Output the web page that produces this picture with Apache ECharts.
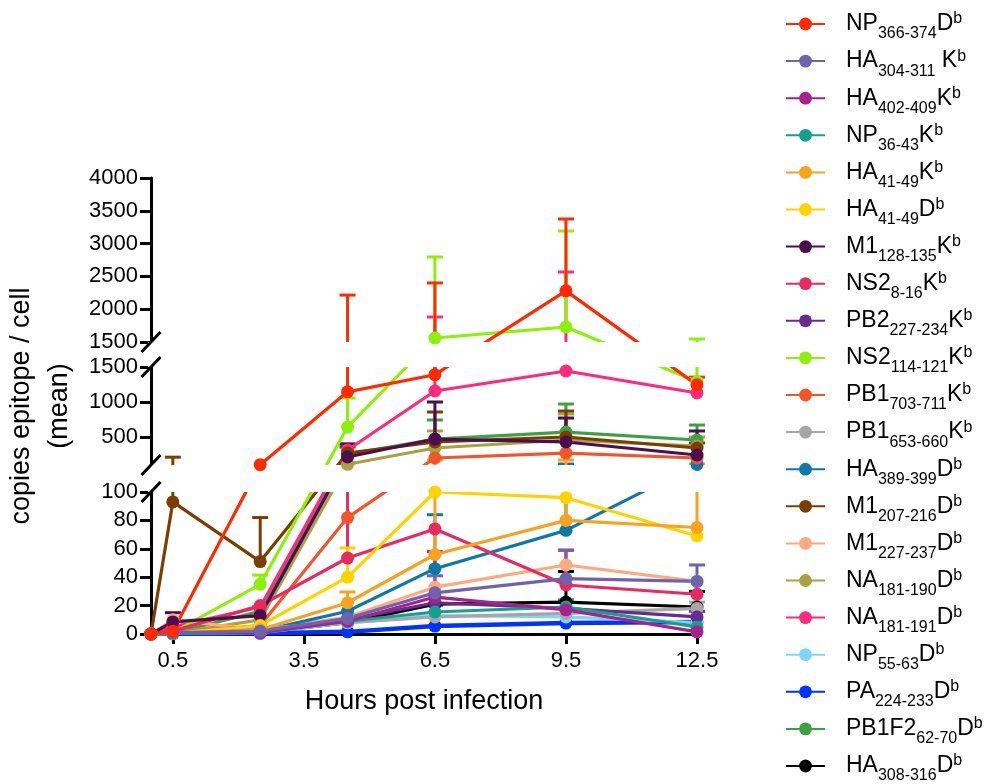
<!DOCTYPE html>
<html><head><meta charset="utf-8">
<script src="https://cdn.jsdelivr.net/npm/echarts@6/dist/echarts.min.js"></script>
<style>html,body{margin:0;padding:0;background:#fff}#c{width:988px;height:784px}</style>
</head><body><div id="c"></div>
<script>
// ---------- data ----------
const hours = [0, 0.5, 2.5, 4.5, 6.5, 9.5, 12.5];
const xTickLabels = [0.5, 3.5, 6.5, 9.5, 12.5];
const yTicksBottom = [0, 20, 40, 60, 80, 100];
const yTicksMiddle = [500, 1000, 1500];
const yTicksTop = [1500, 2000, 2500, 3000, 3500, 4000];

const protein = ['NP','HA','HA','NP','HA','HA','M1','NS2','PB2','NS2','PB1','PB1','HA','M1','M1','NA','NA','NP','PA','PB1F2','HA'];
const residues = ['366-374','304-311','402-409','36-43','41-49','41-49','128-135','8-16','227-234','114-121','703-711','653-660','389-399','207-216','227-237','181-190','181-191','55-63','224-233','62-70','308-316'];
const allele = ['D',' K','K','K','K','D','K','K','K','K','K','K','D','D','D','D','D','D','D','D','D'];

// mean copies per cell at each hour
const meanNP366   = [0, 2, 105, 1145, 1390, 2280, 1245];
const meanHA304   = [0, 1, 2, 11, 29, 39, 37];
const meanHA402   = [0, 1, 1, 9, 26, 17, 1.5];
const meanNP36    = [0, 0.5, 1, 9, 15.5, 19, 5];
const meanHA41K   = [0, 0.5, 3, 22, 56, 80, 75];
const meanHA41D   = [0, 0.5, 6, 40, 100, 96, 69];
const meanM1_128  = [0, 8.5, 13, 214, 471, 429, 243];
const meanNS2_8   = [0, 2, 20, 53.5, 74, 34.5, 28];
const meanPB2     = [0, 1, 2, 10, 22, 18, 12];
const meanNS2_114 = [0, 1, 35, 643, 1561, 1729, 1290];
const meanPB1_703 = [0, 1, 6, 82, 200, 271, 200];
const meanPB1_653 = [0, 0.5, 4, 8, 12, 14.5, 18];
const meanHA389   = [0, 0.5, 2, 16, 46, 73, 108];
const meanM1_207  = [0, 93, 51, 270, 430, 500, 343];
const meanM1_227  = [0, 10, 3, 12, 33, 48.6, 37];
const meanNA190   = [0, 0.5, 10, 110, 343, 457, 371];
const meanNA191   = [0, 5, 19, 314, 1157, 1443, 1129];
const meanNP55    = [0, 0.5, 1, 8, 13, 12, 8];
const meanPA224   = [0, 0, 0.5, 1.5, 5.6, 7.7, 8.5];
const meanPB1F2   = [0, 0.5, 16, 250, 471, 571, 457];
const meanHA308   = [0, 0.5, 1, 8, 21, 22.5, 19];

// upper end of error bar (mean + error), null = no bar drawn
const errNP366   = [null, null, null, 2215, 2400, 3375, 1355];
const errHA304   = [null, null, null, null, 41, 59, 48.6];
const errHA402   = [null, null, null, null, 58, null, null];
const errNP36    = [null, null, null, null, 20, 24, null];
const errHA41K   = [null, null, null, 29.6, 170, 170, 114];
const errHA41D   = [null, null, null, 60.6, null, null, null];
const errM1_128  = [null, 15, 19, 400, 1000, 771, 586];
const errNS2_8   = [null, null, null, 130, null, 59, null];
const errPB2     = [null, null, null, null, null, null, 16];
const errNS2_114 = [null, null, 41.5, 1057, 2796, 3192, 1546];
const errPB1_703 = [null, null, null, null, null, null, null];
const errPB1_653 = [null, null, null, null, null, null, 22.5];
const errHA389   = [null, null, null, null, 84, 114, null];
const errM1_207  = [null, 212, 82, 357, 857, 871, 414];
const errM1_227  = [null, null, null, null, null, 59, null];
const errNA190   = [null, null, null, null, 586, 829, 500];
const errNA191   = [null, null, null, null, 1881, 2567, null];
const errNP55    = [null, null, null, null, null, null, null];
const errPA224   = [null, null, null, null, null, null, null];
const errPB1F2   = [null, null, null, 400, 743, 971, 671];
const errHA308   = [null, null, null, null, null, 44, 30];

const means = [meanNP366, meanHA304, meanHA402, meanNP36, meanHA41K, meanHA41D, meanM1_128, meanNS2_8, meanPB2, meanNS2_114, meanPB1_703, meanPB1_653, meanHA389, meanM1_207, meanM1_227, meanNA190, meanNA191, meanNP55, meanPA224, meanPB1F2, meanHA308];
const errs = [errNP366, errHA304, errHA402, errNP36, errHA41K, errHA41D, errM1_128, errNS2_8, errPB2, errNS2_114, errPB1_703, errPB1_653, errHA389, errM1_207, errM1_227, errNA190, errNA191, errNP55, errPA224, errPB1F2, errHA308];

// ---------- styles ----------
const colors = ['#FF2A00','#6F63AE','#A8228E','#13A08F','#F9A21E','#FFD300','#4D0D4F','#E72A60','#6A2A8F','#8CF00A','#F4542A','#A6A6A6','#0E78A8','#7A3E00','#FFA97E','#A9A243','#FF2A7C','#7ED6FF','#0033FF','#3DA144','#000000'];
const widths = colors.map((c, i) => i === 18 ? 4.5 : 3.2);
const FONT = 'Liberation Sans, Arial, Helvetica, sans-serif';

// broken y-axis: three linear segments laid on one pixel-scaled axis
const segs = [
  {lo: 0, hi: 100, v0: 0, v1: 142},
  {lo: 100, hi: 1500, v0: 169, v1: 267},
  {lo: 1500, hi: 4000, v0: 292, v1: 456}
];
function segVirt(s, v) { return s.v0 + (v - s.lo) * (s.v1 - s.v0) / (s.hi - s.lo); }
function toVirt(v) { const s = v <= segs[0].hi ? segs[0] : (v <= segs[1].hi ? segs[1] : segs[2]); return segVirt(s, v); }
function fromVirt(x) {
  for (const s of segs) if (x >= s.v0 - 0.01 && x <= s.v1 + 0.01) return s.lo + (x - s.v0) * (s.hi - s.lo) / (s.v1 - s.v0);
  return null;
}
const yTickVirt = [].concat(
  yTicksBottom.map(v => segVirt(segs[0], v)),
  yTicksMiddle.map(v => segVirt(segs[1], v)),
  yTicksTop.map(v => segVirt(segs[2], v))
);

const names = protein.map((p, i) => p + residues[i] + allele[i].trim() + 'b');
const nameIndex = {};
names.forEach((n, i) => { nameIndex[n] = i; });

const chart = echarts.init(document.getElementById('c'), null, {renderer: 'canvas'});

const series = [];
// lines + error bars: earlier data sets drawn on top
for (let i = names.length - 1; i >= 0; i--) {
  series.push({
    type: 'line', name: names[i], z: 2,
    data: hours.map((h, k) => means[i][k] == null ? null : [h, toVirt(means[i][k])]),
    symbol: 'circle', symbolSize: 13, showSymbol: false,
    lineStyle: {color: colors[i], width: widths[i]},
    itemStyle: {color: colors[i]},
    emphasis: {disabled: true}, animation: false
  });
}
for (let i = names.length - 1; i >= 0; i--) {
  const d = [];
  hours.forEach((h, k) => { if (errs[i][k] != null) d.push([h, toVirt(means[i][k]), toVirt(errs[i][k])]); });
  if (!d.length) continue;
  const col = colors[i];
  series.push({
    type: 'custom', name: names[i], z: 2, animation: false,
    data: d, encode: {x: 0, y: [1, 2]},
    renderItem: function (params, api) {
      const p0 = api.coord([api.value(0), api.value(1)]);
      const p1 = api.coord([api.value(0), api.value(2)]);
      return {type: 'group', children: [
        {type: 'line', shape: {x1: p0[0], y1: p0[1], x2: p1[0], y2: p1[1]}, style: {stroke: col, lineWidth: 3}},
        {type: 'line', shape: {x1: p1[0] - 8, y1: p1[1], x2: p1[0] + 8, y2: p1[1]}, style: {stroke: col, lineWidth: 3}}
      ]};
    }
  });
}
for (let i = names.length - 1; i >= 0; i--) {
  series.push({
    type: 'scatter', name: names[i], z: 5, animation: false,
    data: hours.map((h, k) => means[i][k] == null ? null : [h, toVirt(means[i][k])]),
    symbol: 'circle', symbolSize: 13,
    itemStyle: {color: colors[i], opacity: 1},
    emphasis: {disabled: true}
  });
}

const option = {
  animation: false,
  backgroundColor: '#fff',
  grid: {left: 151, top: 178, width: 546, height: 456, containLabel: false, outerBoundsMode: 'none'},
  xAxis: {
    type: 'value', min: 0, max: 12.5,
    name: 'Hours post infection', nameLocation: 'middle', nameGap: 54,
    nameTextStyle: {fontFamily: FONT, fontSize: 27, color: '#000'},
    axisLine: {lineStyle: {color: '#000', width: 3}},
    axisTick: {show: true, length: 10, lineStyle: {color: '#000', width: 3}, customValues: xTickLabels},
    axisLabel: {fontFamily: FONT, fontSize: 22, color: '#000', margin: 16, customValues: xTickLabels},
    splitLine: {show: false}
  },
  yAxis: {
    type: 'value', min: 0, max: 456,
    name: 'copies epitope / cell\n(mean)', nameLocation: 'middle', nameGap: 72, nameRotate: 90,
    nameTextStyle: {fontFamily: FONT, fontSize: 27, color: '#000', lineHeight: 38, align: 'center'},
    axisLine: {show: true, lineStyle: {color: '#000', width: 3}},
    axisTick: {show: true, length: 11, lineStyle: {color: '#000', width: 3}, customValues: yTickVirt},
    axisLabel: {fontFamily: FONT, fontSize: 22, color: '#000', margin: 13, customValues: yTickVirt,
      formatter: function (x) { const v = fromVirt(x); return v == null ? '' : String(Math.round(v)); }},
    splitLine: {show: false}
  },
  legend: {
    orient: 'vertical', left: 785, top: 11, height: 900, padding: 0, itemGap: 6.1,
    itemWidth: 39, itemHeight: 16,
    data: names,
    selectedMode: false,
    textStyle: {
      fontFamily: FONT, color: '#000', padding: [0, 0, 0, 16],
      rich: {
        m: {fontFamily: FONT, fontSize: 23, color: '#000', lineHeight: 36, verticalAlign: 'middle'},
        s: {fontFamily: FONT, fontSize: 16, color: '#000', lineHeight: 16, verticalAlign: 'bottom'},
        u: {fontFamily: FONT, fontSize: 16, color: '#000', verticalAlign: 'top', padding: [5, 0, 0, 0]}
      }
    },
    formatter: function (n) {
      const i = nameIndex[n];
      return '{m|' + protein[i] + '}{s|' + residues[i] + '}{m|' + allele[i] + '}{u|b}';
    }
  },
  series: series
};
chart.setOption(option);

// gap masks + break marks, placed through the axis scale
const ax = chart.convertToPixel({xAxisIndex: 0}, 0);
const gy = v => chart.convertToPixel({yAxisIndex: 0}, v);
const right = chart.convertToPixel({xAxisIndex: 0}, 12.5) + 20;
const gaps = [[segs[0].v1, segs[1].v0], [segs[1].v1, segs[2].v0]];
const graphics = [];
gaps.forEach(g => {
  const yTop = gy(g[1]), yBot = gy(g[0]);
  graphics.push({type: 'rect', silent: true, z: 3, shape: {x: ax - 3, y: yTop, width: right - ax + 3, height: yBot - yTop}, style: {fill: '#fff'}});
  [yTop, yBot].forEach(y => {
    graphics.push({type: 'line', silent: true, z: 6, shape: {x1: ax - 9.5, y1: y + 10, x2: ax + 9.5, y2: y - 10}, style: {stroke: '#000', lineWidth: 3}});
  });
});
chart.setOption({graphic: graphics});
</script>
</body></html>
